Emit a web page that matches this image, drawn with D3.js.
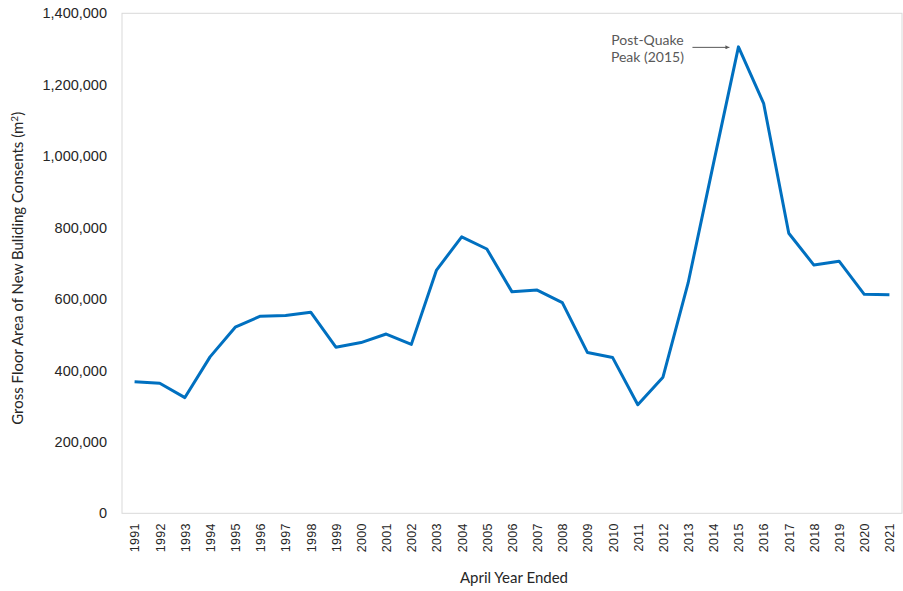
<!DOCTYPE html>
<html>
<head>
<meta charset="utf-8">
<script src="https://cdn.jsdelivr.net/npm/d3@7"></script>
<style>
  body { margin: 0; background: #fff; }
  svg { display: block; font-family: Lato, "Open Sans", sans-serif; }
</style>
</head>
<body>
<div id="chart"></div>
<script>
// data
const years = ['1991','1992','1993','1994','1995','1996','1997','1998','1999','2000',
  '2001','2002','2003','2004','2005','2006','2007','2008','2009','2010',
  '2011','2012','2013','2014','2015','2016','2017','2018','2019','2020','2021'];
const floorArea = [368000, 364000, 324000, 438000, 521000, 552000, 554000, 563000, 465000, 478000,
  502000, 473000, 681000, 774000, 740000, 620000, 625000, 590000, 450000, 436000,
  304000, 381000, 645000, 977000, 1306000, 1148000, 784000, 695000, 706000, 613000, 612000];
const yTicks = [0, 200000, 400000, 600000, 800000, 1000000, 1200000, 1400000];
const peakYear = '2015';
const peakLabel = ['Post-Quake', 'Peak (2015)'];

const W = 903, H = 591;
const margin = {top: 13.3, right: 1, bottom: 77.7, left: 122};
const w = W - margin.left - margin.right;
const h = H - margin.top - margin.bottom;

const svg = d3.select('#chart').append('svg')
  .attr('width', W).attr('height', H);

svg.append('defs').append('marker')
  .attr('id', 'arrow')
  .attr('viewBox', '0 0 10 10')
  .attr('refX', 10).attr('refY', 5)
  .attr('markerWidth', 4).attr('markerHeight', 4)
  .attr('orient', 'auto')
  .append('path')
    .attr('d', 'M0,0 L10,5 L0,10 Z')
    .attr('fill', '#595959');

const g = svg.append('g')
  .attr('transform', `translate(${margin.left},${margin.top})`);

const x = d3.scalePoint().domain(years).range([0, w]).padding(0.5);
const y = d3.scaleLinear().domain([0, 1400000]).range([h, 0]);

// plot frame
g.append('rect')
  .attr('x', 0).attr('y', 0).attr('width', w).attr('height', h)
  .attr('fill', 'none').attr('stroke', '#d9d9d9').attr('stroke-width', 1);

// y axis
const yAxis = g.append('g')
  .call(d3.axisLeft(y).tickValues(yTicks).tickSize(0).tickPadding(15)
    .tickFormat(d3.format(',')));
yAxis.select('.domain').remove();
yAxis.selectAll('text')
  .attr('fill', '#262626')
  .style('font-size', '14.5px');

// x axis
const xAxis = g.append('g')
  .attr('transform', `translate(0,${h})`)
  .call(d3.axisBottom(x).tickSize(0));
xAxis.select('.domain').remove();
xAxis.selectAll('text')
  .attr('transform', 'rotate(-90)')
  .attr('x', -10).attr('y', 0).attr('dy', '0.35em')
  .style('text-anchor', 'end')
  .style('font-family', '"Liberation Sans", Arial, sans-serif')
  .style('font-size', '12.5px')
  .style('letter-spacing', '0.3px')
  .attr('fill', '#262626');

// axis titles
svg.append('text')
  .attr('x', margin.left + w / 2 + 2).attr('y', 583)
  .attr('text-anchor', 'middle')
  .attr('fill', '#262626')
  .style('font-size', '15px')
  .text('April Year Ended');

const yTitle = svg.append('text')
  .attr('transform', `translate(23,${margin.top + h / 2 + 5}) rotate(-90)`)
  .attr('text-anchor', 'middle')
  .attr('fill', '#262626')
  .style('font-size', '15px');
yTitle.append('tspan').text('Gross Floor Area of New Buliding Consents (m');
yTitle.append('tspan').attr('dy', '-5').style('font-size', '10px').text('2');
yTitle.append('tspan').attr('dy', '5').text(')');

// the line
const line = d3.line()
  .x((d, i) => x(years[i]))
  .y(d => y(d));

g.append('path')
  .datum(floorArea)
  .attr('d', line)
  .attr('fill', 'none')
  .attr('stroke', '#0070c0')
  .attr('stroke-width', 3)
  .attr('stroke-linejoin', 'round');

// annotation
const pk = floorArea[years.indexOf(peakYear)];
const px = x(peakYear), py = y(pk);
g.append('line')
  .attr('x1', px - 46).attr('y1', py + 0.5)
  .attr('x2', px - 9).attr('y2', py + 0.5)
  .attr('stroke', '#595959').attr('stroke-width', 1)
  .attr('marker-end', 'url(#arrow)');

g.selectAll('.peak-label')
  .data(peakLabel)
  .enter().append('text')
    .attr('class', 'peak-label')
    .attr('x', px - 91)
    .attr('y', (d, i) => py - 2 + i * 17)
    .attr('text-anchor', 'middle')
    .attr('fill', '#595959')
    .style('font-size', '14px')
    .text(d => d);
</script>
</body>
</html>
